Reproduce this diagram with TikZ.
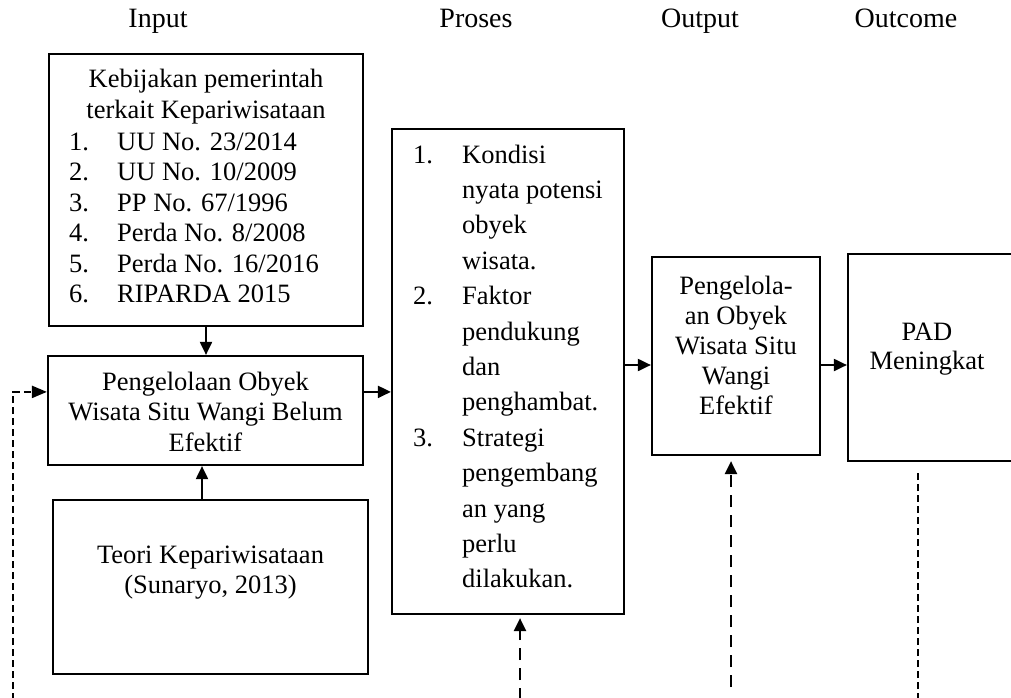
\documentclass[tikz,border=0pt]{standalone}
\usepackage{fontspec}
\setmainfont{Liberation Serif}
\usetikzlibrary{arrows.meta,calc}
\begin{document}
\begin{tikzpicture}[x=1pt,y=-1pt,
  box/.style={draw, line width=2.2pt, inner sep=0pt},
  txt/.style={inner sep=0pt, anchor=base, font=\fontsize{26.5}{30.5}\selectfont},
  hdr/.style={inner sep=0pt, anchor=base, font=\fontsize{28}{32}\selectfont},
  arr/.style={line width=2pt, -{Triangle[length=13pt,width=12pt]}},
  dashA/.style={line width=2.2pt, dash pattern=on 12pt off 8pt},
  dashB/.style={line width=2.2pt, dash pattern=on 7pt off 4pt},
]
\useasboundingbox (0,0) rectangle (1011,698);
\clip (0,0) rectangle (1011,698);

% headers
\node[hdr] (hin)  at (158,28) {Input};
\node[hdr] (hpr)  at (476,28) {Proses};
\node[hdr] (hout) at (700,28) {Output};
\node[hdr] (hoc)  at (906,28) {Outcome};

% boxes
\node[box, minimum width=314pt, minimum height=272pt] (b1) at (206,190) {};
\node[box, minimum width=315pt, minimum height=109pt] (b2) at (205.5,410.5) {};
\node[box, minimum width=315pt, minimum height=174pt] (b3) at (210.5,587) {};
\node[box, minimum width=232pt, minimum height=485pt] (b4) at (508,371.5) {};
\node[box, minimum width=168pt, minimum height=198pt] (b5) at (736,356) {};
\node[box, minimum width=172pt, minimum height=207pt] (b6) at (934,357.5) {};

% texts
\node[txt] (t1h) at (206,88) {\begin{tabular}[t]{@{}c@{}}Kebijakan pemerintah\\terkait Kepariwisataan\end{tabular}};
\node[txt, anchor=base west] (t1l) at (69,150) {\begin{tabular}[t]{@{}p{48pt}@{}l@{}}
1. & UU No. 23/2014\\
2. & UU No. 10/2009\\
3. & PP No. 67/1996\\
4. & Perda No. 8/2008\\
5. & Perda No. 16/2016\\
6. & RIPARDA 2015\end{tabular}};
\node[txt] (t2) at (205.5,390) {\begin{tabular}[t]{@{}c@{}}Pengelolaan Obyek\\Wisata Situ Wangi Belum\\Efektif\end{tabular}};
\node[txt] (t3) at (210.5,563) {\begin{tabular}[t]{@{}c@{}}Teori Kepariwisataan\\(Sunaryo, 2013)\end{tabular}};
\node[txt, anchor=base west, font=\fontsize{26.5}{35.4}\selectfont] (t4) at (413,163) {\begin{tabular}[t]{@{}p{49pt}@{}l@{}}
1. & Kondisi\\
 & nyata potensi\\
 & obyek\\
 & wisata.\\
2. & Faktor\\
 & pendukung\\
 & dan\\
 & penghambat.\\
3. & Strategi\\
 & pengembang\\
 & an yang\\
 & perlu\\
 & dilakukan.\end{tabular}};
\node[txt, font=\fontsize{26.5}{30}\selectfont] (t5) at (736,294) {\begin{tabular}[t]{@{}c@{}}Pengelola-\\an Obyek\\Wisata Situ\\Wangi\\Efektif\end{tabular}};
\node[txt, font=\fontsize{26.5}{29}\selectfont] (t6) at (927,340) {\begin{tabular}[t]{@{}c@{}}PAD\\Meningkat\end{tabular}};

% solid arrows
\draw[arr] (b1.south) -- (b1.south |- b2.north);
\draw[arr] ([xshift=-8.5pt]b3.north) -- ([xshift=-8.5pt]b3.north |- b2.south);
\draw[arr] ([yshift=-37pt]b2.north east) -- ([yshift=-37pt]b2.north east -| b4.west);
\draw[arr] ([yshift=-9pt]b5.west -| b4.east) -- ([yshift=-9pt]b5.west);
\draw[arr] ([yshift=-9pt]b5.east) -- ([yshift=-9pt]b5.east -| b6.west);

% dashed connectors
\coordinate (fb) at (13,700);
\draw[dashB, -{Triangle[length=15pt,width=12pt]}] (fb) |- ([yshift=-37pt]b2.north west);
\coordinate (pr) at (520,700);
\draw[dashA, -{Triangle[length=13pt,width=12pt]}, shorten >=3pt] (pr) -- (pr |- b4.south);
\coordinate (ou) at (731,687);
\draw[dashA, -{Triangle[length=13pt,width=12pt]}, shorten >=5pt] (ou) -- (ou |- b5.south);
\coordinate (pa) at (918,700);
\draw[dashB] (pa) -- ($(pa |- b6.south)+(0,7)$);
\end{tikzpicture}
\end{document}
